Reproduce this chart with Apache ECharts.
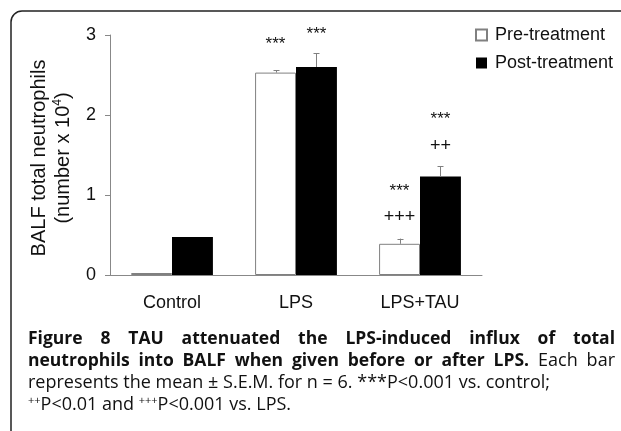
<!DOCTYPE html>
<html>
<head>
<meta charset="utf-8">
<script src="https://cdn.jsdelivr.net/npm/echarts@6/dist/echarts.min.js"></script>
<style>
  html, body { margin: 0; padding: 0; background: #fff; }
  #wrap { position: relative; width: 621px; height: 431px; overflow: hidden; }
  #chart { position: absolute; left: 0; top: 0; width: 621px; height: 431px; }
  #caption { position: absolute; left: 28px; top: 326px; width: 587px; font-family: 'Open Sans', sans-serif; font-size: 18px; line-height: 22px; color: #111; }
  #caption .j { text-align: justify; text-align-last: justify; white-space: nowrap; }
  #caption .l { text-align: left; white-space: nowrap; }
  #caption b { font-weight: 700; font-size: 17.5px; }
  #caption sup { font-size: 11px; line-height: 0; vertical-align: 6px; }
</style>
</head>
<body>
<div id="wrap">
  <div id="chart"></div>
  <div id="caption">
    <div class="j"><span><b>Figure 8 TAU attenuated the LPS-induced influx of total</b></span></div>
    <div class="j"><span><b>neutrophils into BALF when given before or after LPS.</b> Each bar</span></div>
    <div class="l">represents the mean ± S.E.M. for n = 6. ***P&lt;0.001 vs. control;</div>
    <div class="l"><sup>++</sup>P&lt;0.01 and <sup>+++</sup>P&lt;0.001 vs. LPS.</div>
  </div>
</div>
<script>
const categories = ['Control', 'LPS', 'LPS+TAU'];
const seriesNames = ['Pre-treatment', 'Post-treatment'];
const preValues = [0.025, 2.53, 0.39];
const postValues = [0.475, 2.60, 1.23];
const preErrors = [0, 0.03, 0.065];
const postErrors = [0, 0.175, 0.13];
const yMin = 0, yMax = 3, yInterval = 1;
const annCategory = [1, 1, 2, 2, 2, 2];
const annSeries = [0, 1, 0, 0, 1, 1];
const annValue = [2.925, 3.04, 1.086, 0.724, 1.98, 1.618];
const annText = ['***', '***', '***', '+++', '***', '++'];

const FONT = "'Liberation Sans', Arial, sans-serif";
const GAP = 0.34;

// fit justified caption lines that would overflow
document.querySelectorAll('#caption .j').forEach(function (div) {
  const span = div.querySelector('span');
  const W = div.clientWidth;
  const nat = span.getBoundingClientRect().width;
  if (nat > W) {
    const n = span.textContent.length;
    span.style.letterSpacing = ((W - nat - 2) / n) + 'px';
  }
});

const errData = [];
preValues.forEach((v, i) => errData.push([i, v, preErrors[i], 0]));
postValues.forEach((v, i) => errData.push([i, v, postErrors[i], 1]));
const annData = annCategory.map((c, i) => [c, annValue[i], annSeries[i]]);

const chart = echarts.init(document.getElementById('chart'), null, { renderer: 'canvas' });
chart.setOption({
  animation: false,
  backgroundColor: '#fff',
  grid: { left: 110, right: 139, top: 35, bottom: 156, containLabel: false },
  legend: {
    orient: 'vertical', left: 475, top: 26, padding: 0,
    itemWidth: 11, itemHeight: 11, itemGap: 10,
    icon: 'rect',
    textStyle: { fontFamily: FONT, fontSize: 18, color: '#111', lineHeight: 18, padding: [0, 0, 0, 3] },
    data: seriesNames
  },
  xAxis: {
    type: 'category', data: categories,
    axisLine: { lineStyle: { color: '#888', width: 1 } },
    axisTick: { show: false },
    axisLabel: { fontFamily: FONT, fontSize: 18, color: '#111', margin: 19 }
  },
  yAxis: {
    type: 'value', min: yMin, max: yMax, interval: yInterval,
    axisLine: { show: true, lineStyle: { color: '#888', width: 1 } },
    axisTick: { show: true, length: 5, lineStyle: { color: '#888' } },
    splitLine: { show: false },
    axisLabel: { fontFamily: FONT, fontSize: 18, color: '#111', margin: 14 }
  },
  graphic: [
    {
      type: 'rect', shape: { x: 11, y: 11, width: 760, height: 700, r: 11 },
      style: { fill: 'none', stroke: '#222', lineWidth: 1.5 }, z: 0
    },
    {
      type: 'text', x: 51, y: 158, rotation: Math.PI / 2,
      style: {
        text: 'BALF total neutrophils\n(number x 10{sup|4})',
        fontFamily: FONT, fontSize: 20, lineHeight: 24, fill: '#111',
        align: 'center', verticalAlign: 'middle',
        rich: { sup: { fontFamily: FONT, fontSize: 12, lineHeight: 24, verticalAlign: 'top', fill: '#111', padding: [1, 0, 0, 0] } }
      }
    }
  ],
  series: [
    {
      name: seriesNames[0], type: 'bar', data: preValues,
      barGap: 0, barCategoryGap: (GAP * 100) + '%',
      itemStyle: { color: '#fff', borderColor: '#808080', borderWidth: 1 }
    },
    {
      name: seriesNames[1], type: 'bar', data: postValues,
      barGap: 0, barCategoryGap: (GAP * 100) + '%',
      itemStyle: { color: '#000' }
    },
    {
      type: 'custom', data: errData, encode: { x: 0, y: 1 }, z: 5, silent: true,
      renderItem: function (params, api) {
        const cat = api.value(0), v = api.value(1), e = api.value(2), s = api.value(3);
        if (!(e > 0)) return null;
        const band = api.size([1, 0])[0];
        const off = (s === 0 ? -1 : 1) * band * (1 - GAP) / 4;
        const p0 = api.coord([cat, v]);
        const p1 = api.coord([cat, v + e]);
        const x = Math.round(p0[0] + off) + 0.5;
        const st = { stroke: '#808080', lineWidth: 1 };
        return {
          type: 'group', children: [
            { type: 'line', shape: { x1: x, y1: p0[1], x2: x, y2: p1[1] }, style: st },
            { type: 'line', shape: { x1: x - 3, y1: Math.round(p1[1]) + 0.5, x2: x + 3, y2: Math.round(p1[1]) + 0.5 }, style: st }
          ]
        };
      }
    },
    {
      type: 'custom', data: annData, encode: { x: 0, y: 1 }, z: 6, silent: true,
      renderItem: function (params, api) {
        const cat = api.value(0), v = api.value(1), s = api.value(2);
        const band = api.size([1, 0])[0];
        const off = (s === 0 ? -1 : 1) * band * (1 - GAP) / 4;
        const p = api.coord([cat, v]);
        const t = annText[params.dataIndex];
        const isStar = t.charAt(0) === '*';
        return {
          type: 'text', x: p[0] + off, y: p[1] + (isStar ? 3 : 0),
          style: {
            text: t, fontFamily: FONT, fontSize: isStar ? 17 : 18, fill: '#111',
            align: 'center', verticalAlign: 'middle'
          }
        };
      }
    }
  ]
});
</script>
</body>
</html>
